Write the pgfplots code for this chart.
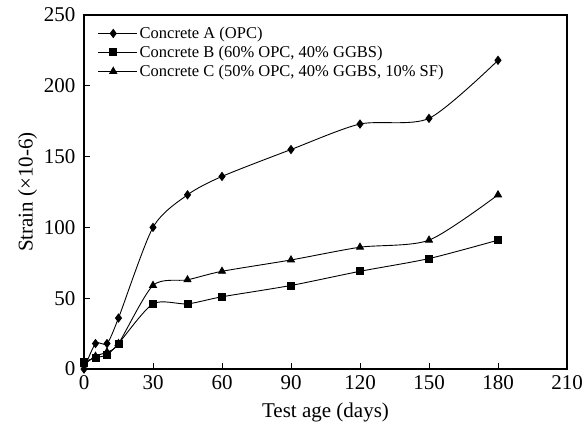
\documentclass[border=0pt]{standalone}
\usepackage{fontspec}
\setmainfont{Liberation Serif}
\usepackage{pgfplots}
\pgfplotsset{compat=1.18}

\begin{document}
\begin{tikzpicture}
\begin{axis}[
  name=ax,
  scale only axis,
  width=483pt, height=354pt,
  xmin=0, xmax=210, ymin=0, ymax=250,
  xtick={0,30,...,210}, ytick={0,50,...,250},
  tick pos=left, tick align=inside,
  major tick length=6pt,
  /pgf/number format/assume math mode=true,
  tick label style={font=\fontsize{21}{23}\selectfont},
  xticklabel style={yshift=-3pt},
  yticklabel style={xshift=-5pt},
  label style={font=\fontsize{21}{23}\selectfont},
  xlabel={Test age (days)},
  ylabel={Strain (×10-6)},
  xlabel style={yshift=-6pt},
  axis line style={line width=1.3pt},
  every tick/.style={line width=1pt, black},
  legend style={draw=none, fill=none, at={(0.024,0.978)}, anchor=north west,
    font=\fontsize{16.5}{18}\selectfont, row sep=2pt, inner sep=2pt,
    nodes={inner sep=2pt}},
  legend image code/.code={%
    \draw[mark repeat=2, mark phase=2] plot coordinates {(0pt,0pt) (15pt,0pt) (30pt,0pt)};
    \path (0pt,0pt) -- (39pt,0pt);},
  legend cell align=left,
  every axis plot/.append style={black, line width=0.9pt, smooth, tension=0.45},
]
\addplot[mark=diamond*, mark size=4pt] coordinates {
  (0,0) (5,18) (10,18) (15,36) (30,100) (45,123) (60,136) (90,155) (120,173) (150,177) (180,218)};
\addlegendentry{Concrete A (OPC)}
\addplot[mark=square*, mark size=3.5pt] coordinates {
  (0,5) (5,8) (10,10) (15,18) (30,46) (45,46) (60,51) (90,59) (120,69) (150,78) (180,91)};
\addlegendentry{Concrete B (60\% OPC, 40\% GGBS)}
\addplot[mark=triangle*, mark size=4pt] coordinates {
  (0,3) (5,9) (10,12) (15,18) (30,59) (45,63) (60,69) (90,77) (120,86) (150,91) (180,123)};
\addlegendentry{Concrete C (50\% OPC, 40\% GGBS, 10\% SF)}
\end{axis}
% page margins around the axis
\path ([xshift=-84pt,yshift=-59pt]ax.south west) rectangle ([xshift=21pt,yshift=15pt]ax.north east);
\end{tikzpicture}
\end{document}
